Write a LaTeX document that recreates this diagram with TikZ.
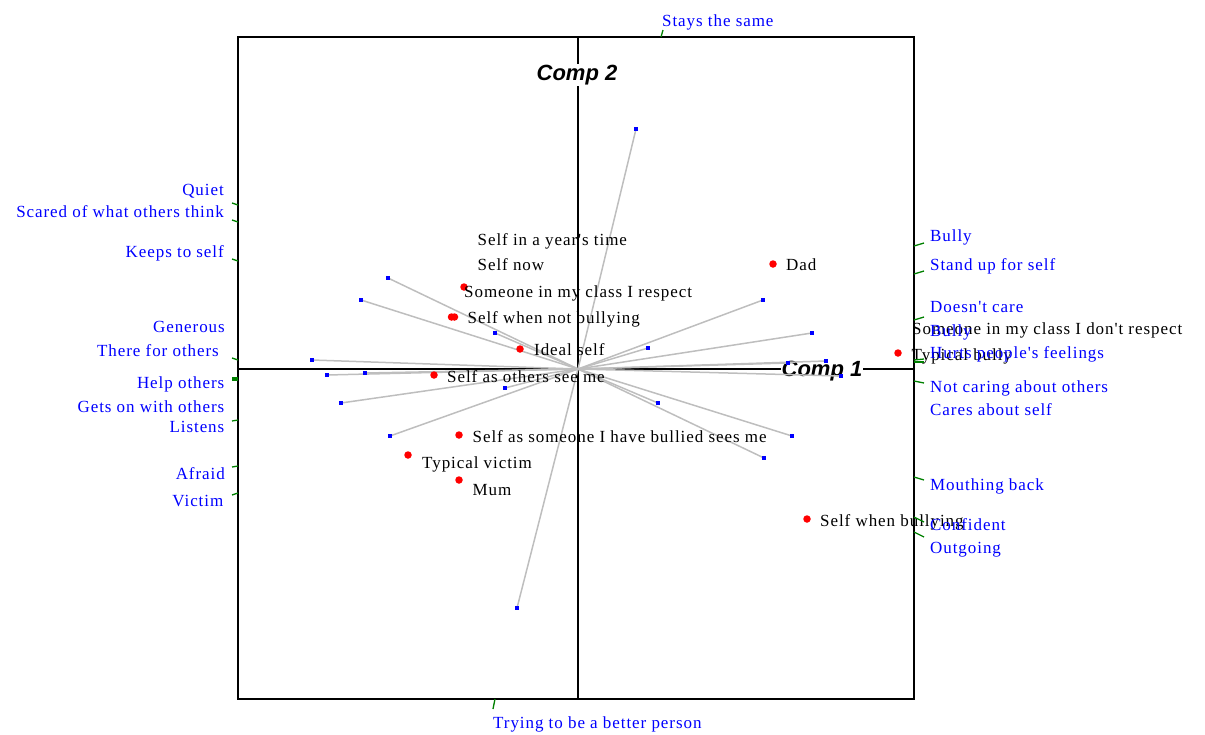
\documentclass[tikz,border=0pt]{standalone}
\usepackage{fontspec}
\setmainfont{Liberation Serif}[LetterSpace=5.5, Ligatures=TeXOff]
\newfontfamily\compfont{Liberation Sans}
\begin{document}
\begin{tikzpicture}[x=1pt,y=-1pt,
  lbl/.style={font=\fontsize{17}{19}\selectfont, inner sep=0pt, anchor=base west},
  blbl/.style={lbl, text={rgb,255:red,0;green,0;blue,255}},
  blblr/.style={blbl, anchor=base east},
  comp/.style={font=\compfont\bfseries\itshape\fontsize{22}{25}\selectfont, fill=white, inner sep=1pt},
  ray/.style={draw={rgb,255:red,190;green,190;blue,190}, line width=1.5pt},
  bdot/.style={fill={rgb,255:red,0;green,0;blue,255}, inner sep=0pt, minimum size=3.6pt, rectangle},
  rdot/.style={circle, fill={rgb,255:red,255;green,0;blue,0}, inner sep=0pt, minimum size=7.5pt},
  tick/.style={draw={rgb,255:red,0;green,128;blue,0}, line width=1.3pt},
  frame/.style={draw=black, line width=1.6pt}
]
\useasboundingbox (0,0) rectangle (1205,734);
% frame and axes
\draw[frame] (238,37) rectangle (914,699);
\coordinate (o) at (578,369);
\coordinate (axl) at (238,369);
\coordinate (axr) at (914,369);
\coordinate (axt) at (578,37);
\coordinate (axb) at (578,699);
\draw[frame] (axl) -- (axr);
\draw[frame] (axt) -- (axb);
\node[comp] (c1) at (822,371) {Comp 1};
\node[comp] (c2) at (577,75) {Comp 2};
% blue points
\foreach \n/\x/\y in {b1/388/278, b2/361/300, b3/495/333, b4/312/360, b5/327/375,
  b6/365/373, b7/505/388, b8/341/403, b9/390/436, b10/763/300, b11/812/333,
  b12/648/348, b13/788/363, b14/826/361, b15/841/376, b16/658/403, b17/792/436,
  b18/764/458, b19/636/129, b20/517/608}
  {\coordinate (\n) at (\x,\y);}
\foreach \n in {b1,b2,b3,b4,b5,b6,b7,b8,b9,b10,b11,b12,b13,b14,b15,b16,b17,b18,b19,b20}
  {\draw[ray] (o) -- (\n);}
\foreach \n in {b1,b2,b3,b4,b5,b6,b7,b8,b9,b10,b11,b12,b13,b14,b15,b16,b17,b18,b19,b20}
  {\node[bdot] (d\n) at (\n) {};}
% red points
\node[rdot] (rdad) at (773,264) {};
\node[rdot] (rresp) at (464,287) {};
\node[rdot] (rnb1) at (451.5,317) {};
\node[rdot] (rnb2) at (454.5,317) {};
\node[rdot] (rideal) at (520,349) {};
\node[rdot] (rothers) at (434,375) {};
\node[rdot] (rbullied) at (459,435) {};
\node[rdot] (rvictim) at (408,455) {};
\node[rdot] (rmum) at (459,480) {};
\node[rdot] (rtb) at (898,353) {};
\node[rdot] (rsb) at (807,519) {};
% black labels
\node[lbl] (lyear) at (477.5,245) {Self in a year's time};
\node[lbl] (lnow) at (477.5,270.5) {Self now};
\node[lbl] (lresp) at (464,297.3) {Someone in my class I respect};
\node[lbl] (lnb) at (467.5,323.3) {Self when not bullying};
\node[lbl] (lideal) at (534,355) {Ideal self};
\node[lbl] (lothers) at (447,382.7) {Self as others see me};
\node[lbl] (lbullied) at (472.5,442.7) {Self as someone I have bullied sees me};
\node[lbl] (lvictim) at (422,468.3) {Typical victim};
\node[lbl] (lmum) at (472.5,495) {Mum};
\node[lbl] (ldad) at (786,270) {Dad};
\node[lbl] (ldont) at (912,334) {Someone in my class I don't respect};
\node[lbl] (ltb) at (911.5,360) {Typical bully};
\node[lbl] (lsb) at (820,526.7) {Self when bullying};
% blue labels right
\node[blbl] (vbully) at (930,241.7) {Bully};
\node[blbl] (vstand) at (930,270) {Stand up for self};
\node[blbl] (vdoesnt) at (930,312.7) {Doesn't care};
\node[blbl] (vbully2) at (930,336.5) {Bully};
\node[blbl] (vhurts) at (930,358.3) {Hurts people's feelings};
\node[blbl] (vnotcaring) at (930,392.7) {Not caring about others};
\node[blbl] (vcares) at (930,415) {Cares about self};
\node[blbl] (vmouth) at (930,490.7) {Mouthing back};
\node[blbl] (vconf) at (930,530.7) {Confident};
\node[blbl] (vout) at (930,553.3) {Outgoing};
% blue labels left
\node[blblr] (vquiet) at (224,195) {Quiet};
\node[blblr] (vscared) at (224,217.7) {Scared of what others think};
\node[blblr] (vkeeps) at (224,257.3) {Keeps to self};
\node[blblr] (vgen) at (225,332.7) {Generous};
\node[blblr] (vthere) at (219,356) {There for others};
\node[blblr] (vhelp) at (224.5,388.7) {Help others};
\node[blblr] (vgets) at (224.5,412.7) {Gets on with others};
\node[blblr] (vlist) at (224.5,432.7) {Listens};
\node[blblr] (vafraid) at (225,479.3) {Afraid};
\node[blblr] (vvictim) at (223.5,506.7) {Victim};
% top/bottom
\node[blbl] (vstays) at (662,26.7) {Stays the same};
\node[blbl] (vtrying) at (493,728.3) {Trying to be a better person};
% ticks
\draw[tick] (914,246) -- (924,243);
\draw[tick] (914,274) -- (924,271);
\draw[tick] (914,320) -- (924,317);
\draw[tick] (914,360) -- (924,359);
\draw[tick] (914,362) -- (924,362);
\draw[tick] (914,381) -- (924,383);
\draw[tick] (914,477) -- (924,480);
\draw[tick] (914,517) -- (924,522);
\draw[tick] (914,532) -- (924,537);
\draw[tick] (238,205) -- (232,203);
\draw[tick] (238,222) -- (232,220);
\draw[tick] (238,261) -- (232,259);
\draw[tick] (238,360) -- (232,358);
\draw[tick] (238,378) -- (232,378);
\draw[tick] (238,380) -- (232,380);
\draw[tick] (238,420) -- (232,421);
\draw[tick] (238,466) -- (232,467);
\draw[tick] (238,493) -- (232,495);
\draw[tick] (661,37) -- (663,30);
\draw[tick] (495,699) -- (493,709);
\end{tikzpicture}
\end{document}
